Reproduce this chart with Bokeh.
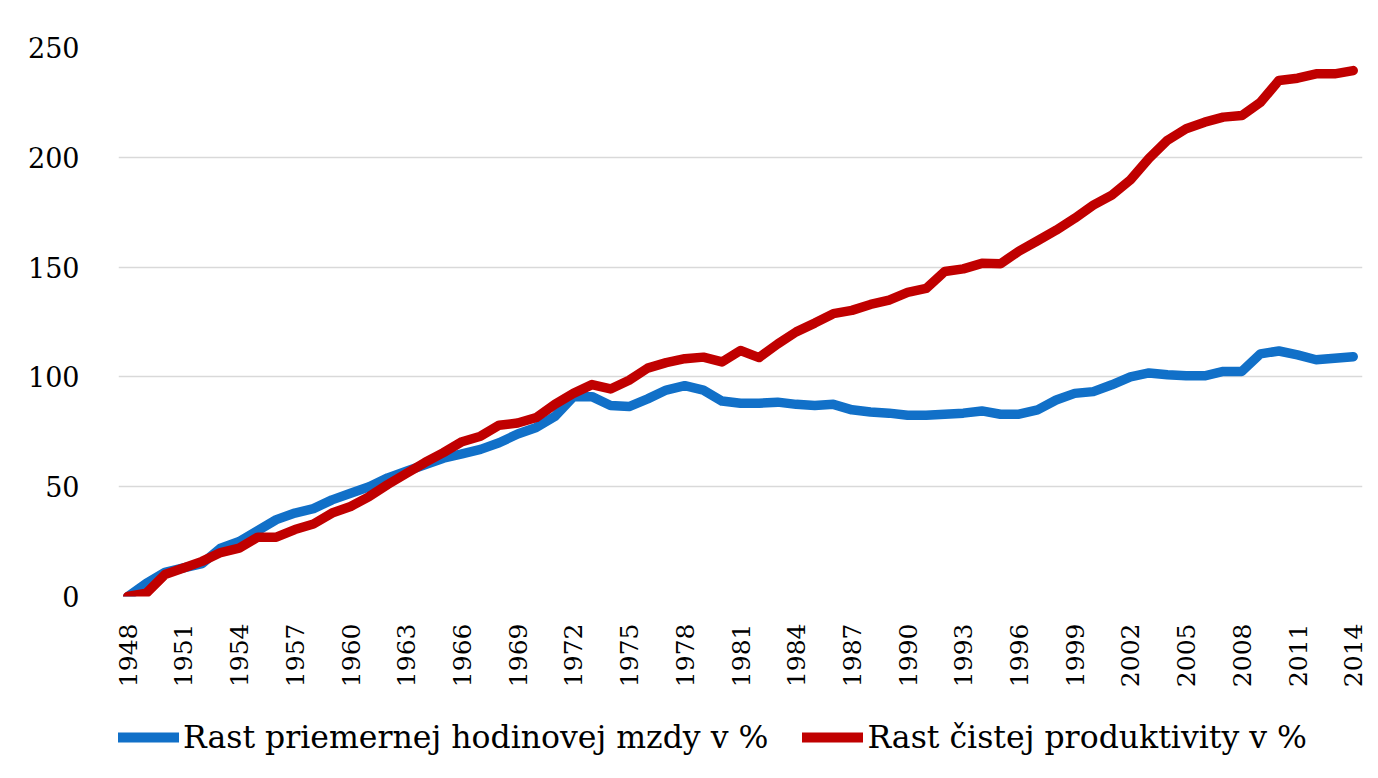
from math import pi
from bokeh.plotting import figure
from bokeh.layouts import column
from bokeh.models import Range1d, FixedTicker, Legend, LegendItem, ColumnDataSource
from bokeh.embed import file_html
from bokeh.resources import INLINE

years = list(range(1948, 2015))
wage = [0, 6, 11, 13, 15, 22, 25, 30, 35, 38,
        40, 44, 47, 50, 54, 57, 60, 63, 65, 67,
        70, 74, 77, 82, 91, 91, 87, 86.5, 90, 94,
        96, 94, 89, 88, 88, 88.5, 87.5, 87, 87.5, 85,
        84, 83.5, 82.5, 82.5, 83, 83.5, 84.5, 83, 83, 85,
        89.5, 92.5, 93.3, 96.4, 100, 101.8, 101, 100.5, 100.5, 102.5,
        102.5, 110.5, 111.8, 110, 107.8, 108.5, 109.2]
productivity = [0, 1.5, 10, 13, 16, 20, 22, 27, 27, 30.5,
                33, 38, 41, 45.5, 51, 56, 61, 65.5, 70.5, 73,
                78, 79, 81.5, 87.5, 92.5, 96.5, 94.5, 98.5, 104, 106.5,
                108.3, 109, 106.8, 112, 108.8, 115, 120.5, 124.5, 128.8, 130.3,
                133, 135, 138.5, 140.3, 148, 149.2, 151.7, 151.5, 157.3, 162,
                166.8, 172.2, 178.2, 182.8, 189.7, 199.5, 207.8, 213, 216, 218.3,
                219, 225, 235, 236, 238, 238, 239.5]
x_ticks = years[::3]
y_ticks = [0, 50, 100, 150, 200, 250]
series_names = ["Rast priemernej hodinovej mzdy v %", "Rast čistej produktivity v %"]
colors = ["#1170C8", "#C00000"]

src = ColumnDataSource(dict(year=years, wage=wage, prod=productivity))

p = figure(width=1370, height=690, output_backend="svg", toolbar_location=None,
           x_range=Range1d(1947.5, 2014.5), y_range=Range1d(0, 250),
           min_border_left=118, min_border_right=8, min_border_top=47,
           min_border_bottom=93)
p.outline_line_color = None
p.background_fill_color = "white"
p.border_fill_color = "white"

r1 = p.line("year", "wage", source=src, line_color=colors[0], line_width=9.5,
            line_cap="round", line_join="round")
r2 = p.line("year", "prod", source=src, line_color=colors[1], line_width=9.5,
            line_cap="round", line_join="round")

p.xgrid.grid_line_color = None
p.ygrid.grid_line_color = "#D9D9D9"
p.ygrid.grid_line_width = 1.5
p.ygrid.ticker = FixedTicker(ticks=y_ticks)

p.yaxis.ticker = FixedTicker(ticks=y_ticks)
p.yaxis.axis_line_color = None
p.yaxis.major_tick_line_color = None
p.yaxis.minor_tick_line_color = None
p.yaxis.major_label_text_font = "DejaVu Serif"
p.yaxis.major_label_text_font_size = "27px"
p.yaxis.major_label_text_color = "black"
p.yaxis.major_label_standoff = 33

p.xaxis.ticker = FixedTicker(ticks=x_ticks)
p.xaxis.major_label_overrides = {y: str(y) for y in x_ticks}
p.xaxis.axis_line_color = None
p.xaxis.major_tick_line_color = None
p.xaxis.minor_tick_line_color = None
p.xaxis.major_label_orientation = pi / 2
p.xaxis.major_label_text_font = "DejaVu Serif"
p.xaxis.major_label_text_font_size = "25px"
p.xaxis.major_label_text_color = "black"
p.xaxis.major_label_standoff = 21

# legend strip below the chart (its lines lie outside its view, only the legend shows)
lsrc = ColumnDataSource(dict(year=years, wage=wage, prod=productivity))
lg = figure(width=1370, height=80, output_backend="svg", toolbar_location=None,
            x_range=Range1d(0, 1), y_range=Range1d(0, 1),
            min_border_left=0, min_border_right=0, min_border_top=0, min_border_bottom=0)
lg.axis.visible = False
lg.grid.grid_line_color = None
lg.outline_line_color = None
lg.background_fill_color = "white"
lg.border_fill_color = "white"
k1 = lg.line("year", "wage", source=lsrc, line_color=colors[0], line_width=10, line_cap="round")
k2 = lg.line("year", "prod", source=lsrc, line_color=colors[1], line_width=10, line_cap="round")
legend = Legend(items=[LegendItem(label=series_names[0], renderers=[k1]),
                       LegendItem(label=series_names[1], renderers=[k2])],
                orientation="horizontal", location=(0, 15),
                glyph_width=61, glyph_height=36, label_height=36,
                label_standoff=4, spacing=34,
                padding=0, margin=0, border_line_color=None,
                background_fill_alpha=0,
                label_text_font="DejaVu Serif", label_text_font_size="31.5px",
                label_text_color="black")
lg.add_layout(legend, "center")

layout = column(p, lg, spacing=0)
open("out.html", "w").write(file_html(layout, INLINE))
